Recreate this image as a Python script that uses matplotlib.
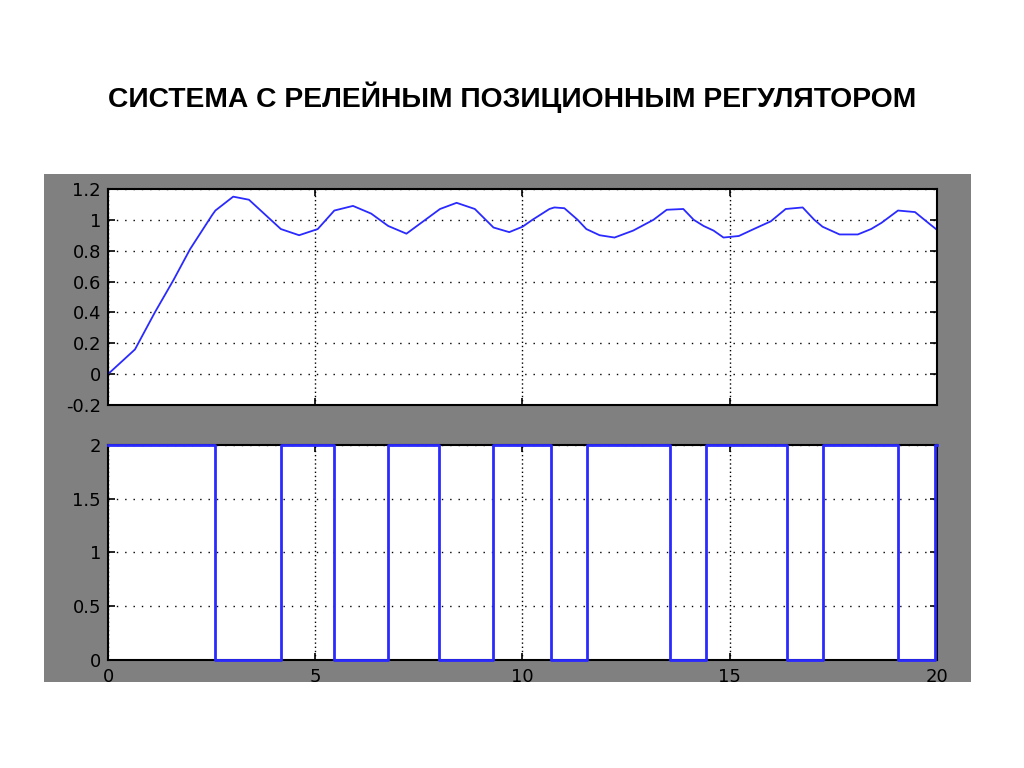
import numpy as np
import matplotlib.pyplot as plt
from matplotlib.patches import Rectangle

# Output of the plant (upper plot)
t_out = [0.0, 0.65, 1.13, 1.58, 1.98, 2.51, 2.59, 3.02, 3.40, 4.17, 4.61, 5.06,
         5.46, 5.91, 6.35, 6.76, 7.20, 8.01, 8.41, 8.85, 9.30, 9.68, 10.0, 10.24,
         10.65, 10.77, 11.01, 11.33, 11.54, 11.86, 12.22, 12.67, 13.16, 13.48,
         13.88, 14.13, 14.37, 14.61, 14.85, 15.22, 15.58, 15.99, 16.35, 16.76,
         17.04, 17.24, 17.65, 18.09, 18.41, 18.66, 19.06, 19.47, 19.79, 20.0]
y_out = [0.0, 0.16, 0.40, 0.61, 0.81, 1.03, 1.06, 1.15, 1.13, 0.94, 0.90, 0.94,
         1.06, 1.09, 1.04, 0.96, 0.91, 1.07, 1.11, 1.07, 0.95, 0.92, 0.955, 1.00,
         1.07, 1.08, 1.075, 1.00, 0.94, 0.90, 0.885, 0.93, 1.00, 1.065,
         1.07, 1.00, 0.96, 0.93, 0.885, 0.895, 0.94, 0.99, 1.07, 1.08,
         1.00, 0.955, 0.905, 0.905, 0.94, 0.98, 1.06, 1.05, 0.98, 0.935]

# Relay output (lower plot): switching instants and levels
switch_times = [0.0, 2.58, 4.17, 5.46, 6.76, 7.99, 9.28, 10.68, 11.56, 13.56,
                14.42, 16.38, 17.25, 19.07, 19.95, 20.0]
relay_levels = [2, 0, 2, 0, 2, 0, 2, 0, 2, 0, 2, 0, 2, 0, 2, 2]

title = "СИСТЕМА С РЕЛЕЙНЫМ ПОЗИЦИОННЫМ РЕГУЛЯТОРОМ"

plt.rcParams['font.family'] = ['Liberation Sans', 'DejaVu Sans']

fig = plt.figure(figsize=(10.24, 7.68), dpi=100, facecolor='white')

# gray MATLAB-like figure panel, kept behind the axes
fig.patches.append(Rectangle((0.043, 0.112), 0.905, 0.661, transform=fig.transFigure,
                             facecolor='#808080', edgecolor='none', zorder=-10))

fig.text(0.5, 0.873, title, ha='center', va='center', fontsize=20.3, fontweight='bold')

ax1 = fig.add_axes([0.1055, 0.4727, 0.8095, 0.2813])
ax2 = fig.add_axes([0.1055, 0.1406, 0.8095, 0.28])

for ax in (ax1, ax2):
    ax.set_zorder(1)
    ax.set_facecolor('white')
    ax.set_xlim(0, 20)
    ax.set_xticks([0, 5, 10, 15, 20])
    ax.tick_params(direction='in', top=True, right=True, length=5, width=1.2,
                   labelsize=13, pad=5)
    ax.tick_params(axis='x', pad=6)
    ax.xaxis.grid(True, color='black', linestyle=(0, (1, 2)), linewidth=1)
    ax.yaxis.grid(True, color='black', linestyle=(0, (1, 5)), linewidth=1)
    for s in ax.spines.values():
        s.set_linewidth(1.5)
        s.set_color('black')
    for lbl in ax.get_xticklabels() + ax.get_yticklabels():
        lbl.set_family('DejaVu Sans')

ax1.plot(t_out, y_out, color='#2a2aff', linewidth=1.3)
ax1.set_ylim(-0.2, 1.2)
ax1.set_yticks(np.round(np.arange(-0.2, 1.21, 0.2), 1))
ax1.set_yticklabels(['-0.2', '0', '0.2', '0.4', '0.6', '0.8', '1', '1.2'],
                    family='DejaVu Sans')
ax1.tick_params(labelbottom=False)

ax2.step(switch_times, relay_levels, where='post', color='#2a2aff', linewidth=2,
         clip_on=False, zorder=5)
ax2.set_ylim(0, 2)
ax2.set_yticks([0, 0.5, 1, 1.5, 2])
ax2.set_yticklabels(['0', '0.5', '1', '1.5', '2'], family='DejaVu Sans')
ax2.set_xticklabels(['0', '5', '10', '15', '20'], family='DejaVu Sans')

fig.savefig('out.png', dpi=100, facecolor='white')
